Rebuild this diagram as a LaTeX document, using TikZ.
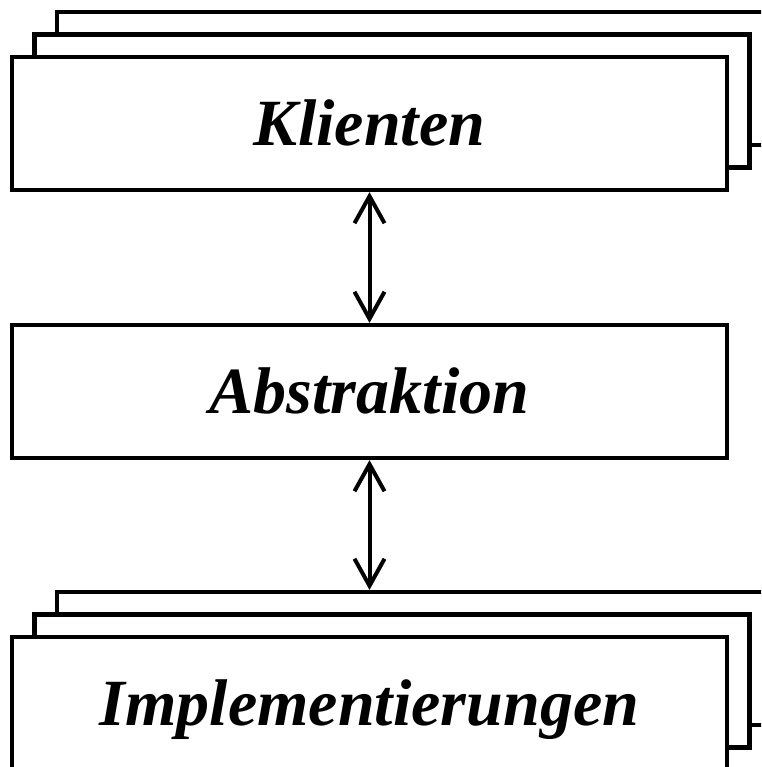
\documentclass[tikz,border=0pt]{standalone}
\usepackage{fontspec}
\setmainfont{Liberation Serif}
\usetikzlibrary{arrows.meta}
\begin{document}
\begin{tikzpicture}[x=1pt,y=-1pt,
  card/.style={draw=black, fill=white, line width=4.2pt, rectangle,
    minimum width=715pt, minimum height=133pt, inner sep=0pt,
    text height=44pt, text depth=0pt,
    font=\fontsize{66}{70}\selectfont\bfseries\itshape},
  link/.style={line width=4pt,
    {Straight Barb[length=27pt,width=30pt]}-{Straight Barb[length=27pt,width=30pt]}}]
\clip (0,0) rectangle (761,767);

% stack of client cards
\node[card] (klC) at (414.5,78.5) {};
\node[card] (klB) at (392,101) {};
\node[card] (klA) at (369.5,123.5) {Klienten};

% abstraction layer
\node[card] (ab) at (369.5,391.5) {Abstraktion};

% stack of implementation cards
\node[card] (imC) at (414.5,658.5) {};
\node[card] (imB) at (392,681) {};
\node[card] (imA) at (369.5,703.5) {Implementierungen};

% two-way links between the layers
\draw[link] (klA.south) -- (ab.north);
\draw[link] (ab.south) -- (ab.south |- imC.north);
\end{tikzpicture}
\end{document}
